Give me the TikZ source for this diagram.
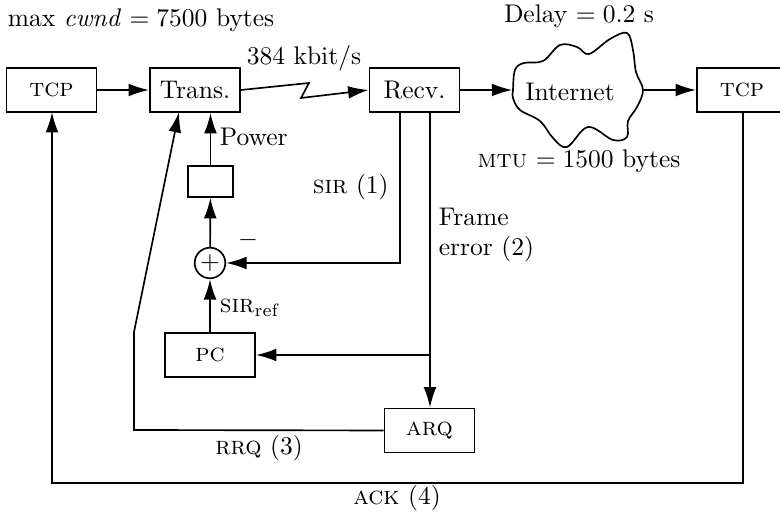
\documentclass[tikz,border=0pt]{standalone}
\usetikzlibrary{arrows.meta,calc}
\begin{document}
\begin{tikzpicture}[x=0.392pt,y=-0.392pt,line width=0.65pt,
  blk/.style={draw,inner sep=0pt,minimum width=35.4pt,minimum height=17.3pt,fill=white},
  lbl/.style={inner sep=0pt},
  arr/.style={-{Latex[length=8pt,width=5pt]}}]
\useasboundingbox (0,0) rectangle (780,514);
\clip (0,0) rectangle (780,514);
% boxes
\node[blk] (tcpL) at (51.5,90) {\textsc{tcp}};
\node[blk] (trans) at (195,90) {Trans.};
\node[blk] (recv) at (414.5,90) {Recv.};
\node[blk] (tcpR) at (742,90) {\textsc{tcp}};
\node[blk,minimum width=17.6pt,minimum height=12.2pt] (pbox) at (210.5,181.5) {};
\node[draw,circle,inner sep=0pt,minimum size=12pt] (sum) at (210,263) {$+$};
\node[blk] (pc) at (210,355) {\textsc{pc}};
\node[blk] (arq) at (429.5,430.5) {\textsc{arq}};
% cloud
\node[lbl,minimum width=50.9pt,minimum height=20pt] (cloud) at (578,90) {};
\draw[fill=white] plot[smooth cycle,tension=0.6] coordinates {(513,90) (515,70) (524,63) (543,61) (560,45) (577,47) (589,54) (610,39) (627,33) (633,50) (636,72) (643,90) (637,107) (628,121) (627,137) (613,140) (588,127) (567,147) (553,138) (540,121) (520,110) (513,98)};
\node[lbl] at (570,92) {Internet};
% coordinates
\coordinate (z1) at (309,83);
\coordinate (z2) at (301,98);
\coordinate (r1) at (400,112);
\coordinate (r2) at (430,112);
\coordinate (q1) at (134,430);
\coordinate (q2) at (134,332);
\coordinate (q3) at (179,112);
\coordinate (a1) at (743,112);
\coordinate (a2) at (743,483);
\coordinate (a3) at (52,483);
\coordinate (a4) at (52,112);
% connectors
\draw[arr] (tcpL) -- (trans);
\draw[arr] (trans.east) -- (z1) -- (z2) -- (recv.west);
\draw[arr] (recv) -- (cloud.west);
\draw[arr] (cloud.east) -- (tcpR);
\draw[arr] (r1) |- (sum.east);
\draw[arr] (r2) -- (r2 |- arq.north);
\draw[arr] (r2 |- pc) -- (pc.east);
\draw[arr] (sum) -- (pbox);
\draw[arr] (pbox.north) -- (pbox.north |- trans.south);
\draw[arr] (pc) -- (sum);
\draw[arr] (arq.west) -- (q1) -- (q2) -- (q3);
\draw[arr] (a1) -- (a2) -- (a3) -- (a4);
% labels
\node[lbl,anchor=base west] at (7,27) {max $\mathit{cwnd}=7500$ bytes};
\node[lbl,anchor=base west] at (246,65) {384 kbit/s};
\node[lbl,anchor=base] at (579,23) {Delay $=0.2$ s};
\node[lbl,anchor=base] at (579,168) {\textsc{mtu} $=1500$ bytes};
\node[lbl,anchor=base west] at (219,146) {Power};
\node[lbl,anchor=base west] at (312,194) {\textsc{sir} (1)};
\node[lbl,anchor=north west,align=left] at (438,207) {Frame\\error (2)};
\node[lbl] at (248,240) {$-$};
\node[lbl,anchor=base west] at (219,313) {\textsc{sir}$_{\mathrm{ref}}$};
\node[lbl,anchor=base] at (259,455) {\textsc{rrq} (3)};
\node[lbl,anchor=base] at (397,505) {\textsc{ack} (4)};
\end{tikzpicture}
\end{document}
